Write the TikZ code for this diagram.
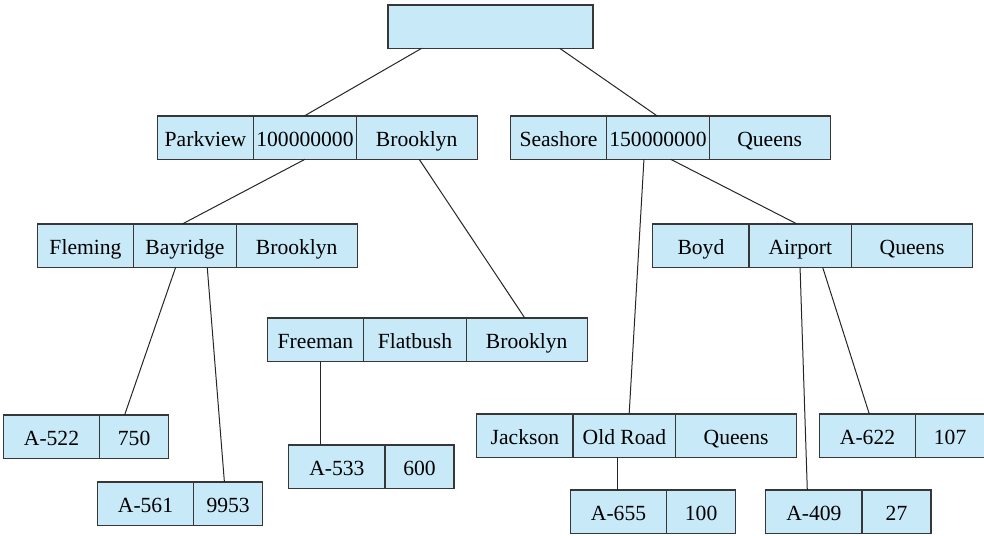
\documentclass[tikz,border=0pt]{standalone}
\usepackage{fontspec}
\setmainfont{Liberation Serif}
\definecolor{cellblue}{RGB}{199,233,248}
\definecolor{rulegray}{RGB}{55,55,55}
\tikzset{
  cell/.style={draw=rulegray, fill=cellblue, line width=0.65pt, inner sep=0pt,
    outer sep=0pt, minimum height=21.65pt, text height=9.5pt, text depth=0.5pt,
    font=\fontsize{10.8pt}{13pt}\selectfont},
  colA/.style={cell, minimum width=48.2pt},
  colB/.style={cell, minimum width=51.25pt},
  colC/.style={cell, minimum width=60.5pt},
  colD/.style={cell, minimum width=34.4pt},
  link/.style={draw=black!85, line width=0.5pt},
}
% one account record: (name) at (x,y) {account}{balance}
\newcommand{\acctrec}[4]{%
  \node[colA, anchor=north west] (#1-1) at (#2) {#3};
  \node[colD, anchor=west] (#1-2) at (#1-1.east) {#4};}
% one branch record: (name) at (x,y) {branch}{assets}{city}
\newcommand{\branchrec}[5]{%
  \node[colA, anchor=north west] (#1-1) at (#2) {#3};
  \node[colB, anchor=west] (#1-2) at (#1-1.east) {#4};
  \node[colC, anchor=west] (#1-3) at (#1-2.east) {#5};}
\begin{document}
\begin{tikzpicture}[x=0.5pt, y=-0.5pt]
\useasboundingbox (0,0) rectangle (984,535);

% root
\node[cell, minimum width=102.5pt, anchor=north west] (root) at (388,5) {};

% branch records
\branchrec{pk}{157.3,116}{Parkview}{100000000}{Brooklyn}
\branchrec{se}{510.3,116}{Seashore}{150000000}{Queens}
\branchrec{fl}{37.3,224}{Fleming}{Bayridge}{Brooklyn}
\branchrec{bo}{652.7,224}{Boyd}{Airport}{Queens}
\branchrec{fr}{267.3,318}{Freeman}{Flatbush}{Brooklyn}
\branchrec{ja}{476.7,414}{Jackson}{Old Road}{Queens}

% account records
\acctrec{a522}{3.3,415}{A-522}{750}
\acctrec{a561}{97.3,482}{A-561}{9953}
\acctrec{a533}{288.7,445}{A-533}{600}
\acctrec{a622}{819.3,414}{A-622}{107}
\acctrec{a655}{570.3,490}{A-655}{100}
\acctrec{a409}{765.7,490}{A-409}{27}

% tree links
\draw[link] ([xshift=16.85pt]root.south west) -- ([xshift=-0.35pt]pk-2.north);
\draw[link] ([xshift=-16.65pt]root.south east) -- ([xshift=-0.35pt]se-2.north);
\draw[link] ([xshift=0pt]pk-2.south) -- ([xshift=-1.35pt]fl-2.north);
\draw[link] ([xshift=1.25pt]pk-3.south) -- ([xshift=-0.95pt]fr-3.north);
\draw[link] ([xshift=-4.65pt]fl-2.south) -- ([xshift=-4.75pt]a522-2.north);
\draw[link] ([xshift=11.15pt]fl-2.south) -- ([xshift=-1.85pt]a561-2.north);
\draw[link] ([xshift=2.6pt]fr-1.south) coordinate (frfoot) -- (frfoot |- a533-1.north);
\draw[link] ([xshift=-7pt]se-2.south) -- ([xshift=2.4pt]ja-2.north);
\draw[link] ([xshift=6.35pt]se-2.south) -- ([xshift=-1.65pt]bo-2.north);
\draw[link] ([xshift=-0.15pt]bo-2.south) -- ([xshift=-3.3pt]a409-1.north);
\draw[link] ([xshift=11.15pt]bo-2.south) -- ([xshift=0.9pt]a622-1.north);
\draw[link] ([xshift=-3.6pt]ja-2.south) coordinate (jafoot) -- (jafoot |- a655-1.north);
\end{tikzpicture}
\end{document}
